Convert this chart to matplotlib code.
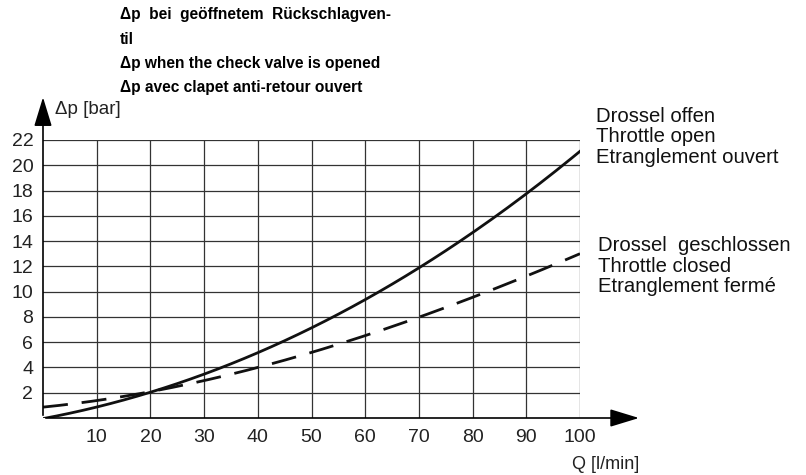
import numpy as np
import matplotlib.pyplot as plt

plt.rcParams['font.family'] = ['Liberation Sans', 'DejaVu Sans']

# Werte
q = [0, 10, 20, 30, 40, 50, 60, 70, 80, 90, 100]
dp_offen = [0.0, 0.8, 2.0, 3.5, 5.2, 7.2, 9.3, 11.9, 14.6, 17.8, 21.1]
dp_geschlossen = [0.85, 1.4, 2.05, 3.0, 4.05, 5.1, 6.5, 8.0, 9.6, 11.2, 13.0]

x_ticks = [10, 20, 30, 40, 50, 60, 70, 80, 90, 100]
y_ticks = [2, 4, 6, 8, 10, 12, 14, 16, 18, 20, 22]

titel = ['\u0394p  bei  geöffnetem  Rückschlagven-',
         'til',
         '\u0394p when the check valve is opened',
         '\u0394p avec clapet anti-retour ouvert']
label_offen = 'Drossel offen\nThrottle open\nEtranglement ouvert'
label_zu = 'Drossel  geschlossen\nThrottle closed\nEtranglement fermé'

fig = plt.figure(figsize=(8.06, 4.75), dpi=100)
ax = fig.add_axes([43 / 806, 57 / 475, 537 / 806, 278 / 475])

qq = np.linspace(0, 100, 201)
c1 = np.polyfit(q, dp_offen, 3)
c2 = np.polyfit(q, dp_geschlossen, 3)
ax.plot(qq, np.polyval(c1, qq), color='#111111', lw=2.0)
ax.plot(qq, np.polyval(c2, qq), color='#111111', lw=2.0, dashes=(9, 5))

ax.set_xlim(0, 100)
ax.set_ylim(0, 22)
ax.set_xticks(x_ticks)
ax.set_yticks(y_ticks)
ax.tick_params(axis='y', length=0, labelsize=14, colors='#222222', pad=7)
ax.tick_params(axis='x', length=0, labelsize=14, colors='#222222', pad=8)
ax.grid(True, color='#333333', lw=0.9)
for s in ax.spines.values():
    s.set_visible(False)

# Achsen mit Pfeilen
ax.annotate('', xy=(111.5, 0), xytext=(0, 0), annotation_clip=False,
            arrowprops=dict(arrowstyle='-|>,head_length=1.8,head_width=0.55',
                            color='black', lw=1.2))
ax.annotate('', xy=(0, 25.6), xytext=(0, 0), annotation_clip=False,
            arrowprops=dict(arrowstyle='-|>,head_length=1.8,head_width=0.55',
                            color='black', lw=1.2))

ax.text(2.2, 24.4, '\u0394p [bar]', fontsize=13.5, color='#222222',
        ha='left', va='center')
ax.text(111, -3.7, 'Q [l/min]', fontsize=13, color='#222222',
        ha='right', va='center')

for i, t in enumerate(titel):
    fig.text(120 / 806, 1 - (15 + 24.3 * i) / 475, t, fontsize=11.2,
             fontweight='bold', ha='left', va='center')

fig.text(596 / 806, 1 - 137 / 475, label_offen, fontsize=14.6, color='#111111',
         ha='left', va='center', linespacing=1.12)
fig.text(598 / 806, 1 - 266 / 475, label_zu, fontsize=14.6, color='#111111',
         ha='left', va='center', linespacing=1.12)

fig.savefig('out.png', dpi=100)
